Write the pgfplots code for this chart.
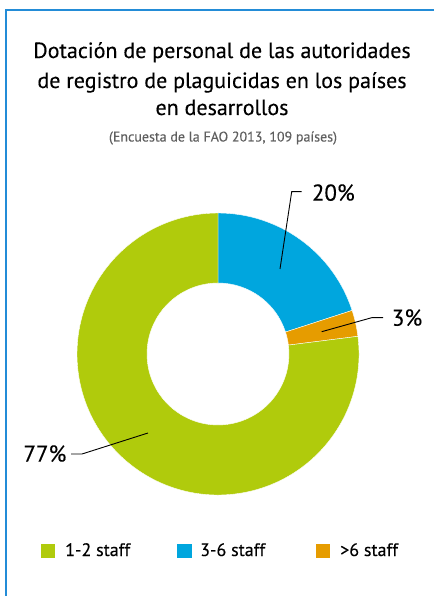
\documentclass[border=0pt]{standalone}
\usepackage{pgfplots}
\usepackage{pgfplotstable}
\pgfplotsset{compat=1.18}
\usepackage{fontspec}
\setmainfont{PT Sans}[FakeBold=0.25]
\definecolor{cgreen}{RGB}{176,203,12}
\definecolor{cblue}{RGB}{0,166,222}
\definecolor{corange}{RGB}{230,156,0}
\definecolor{cframe}{RGB}{35,140,215}
\definecolor{csub}{RGB}{95,95,95}
\pgfplotstableread{
share
20
3
77
}\datatable
\pgfplotstablegetelem{0}{share}\of\datatable \let\vA\pgfplotsretval
\pgfplotstablegetelem{1}{share}\of\datatable \let\vB\pgfplotsretval
\pgfplotstablegetelem{2}{share}\of\datatable \let\vC\pgfplotsretval
\pgfmathsetmacro\aA{90}
\pgfmathsetmacro\aB{\aA-3.6*\vA}
\pgfmathsetmacro\aC{\aB-3.6*\vB}
\pgfmathsetmacro\aD{\aC-3.6*\vC}
\def\cx{218}\def\cy{242}\def\ro{141}\def\ri{71}
\newcommand\slice[3]{%
  \fill[#3,draw=white,line width=0.4pt] (axis cs:{\cx+\ro*cos(#1)},{\cy+\ro*sin(#1)}) arc[start angle=#1,end angle=#2,radius=\ro pt]
   -- (axis cs:{\cx+\ri*cos(#2)},{\cy+\ri*sin(#2)}) arc[start angle=#2,end angle=#1,radius=\ri pt] -- cycle;}
\begin{document}
\begin{tikzpicture}[x=1pt,y=1pt]
\useasboundingbox (0,0) rectangle (434,596);
\begin{axis}[hide axis, x=1pt, y=1pt, xmin=0, xmax=434, ymin=0, ymax=596,
  at={(0,0)}, anchor=south west, scale only axis, clip=false]
\slice{\aA}{\aB}{cblue}
\slice{\aB}{\aC}{corange}
\slice{\aC}{\aD}{cgreen}
% frame
\draw[cframe,line width=1.3pt] (axis cs:434,586) -- (axis cs:6,586) -- (axis cs:6,0);
% title
\node[anchor=base,font=\fontsize{22}{26}\selectfont] at (axis cs:222,538) {Dotación de personal de las autoridades};
\node[anchor=base,font=\fontsize{22}{26}\selectfont] at (axis cs:222,508) {de registro de plaguicidas en los países};
\node[anchor=base,font=\fontsize{22}{26}\selectfont] at (axis cs:222,481) {en desarrollos};
\node[anchor=base,font=\fontsize{14}{16}\selectfont,text=csub] at (axis cs:223,454.5) {(Encuesta de la FAO 2013, 109 países)};
% leaders
\draw[line width=0.9pt] (axis cs:280,327) -- (axis cs:291.7,404.3) -- (axis cs:301.7,404.3);
\draw[line width=0.9pt] (axis cs:321.7,264.3) -- (axis cs:371.7,278.3) -- (axis cs:383,278.3);
\draw[line width=0.9pt] (axis cs:71,142) -- (axis cs:82,142) -- (axis cs:148,163);
\node[anchor=base west,inner sep=0,font=\fontsize{23}{26}\selectfont] at (axis cs:311.7,395.3) {\vA\%};
\node[anchor=base west,inner sep=0,font=\fontsize{23}{26}\selectfont] at (axis cs:391.7,270.3) {\vB\%};
\node[anchor=base west,inner sep=0,font=\fontsize{23}{26}\selectfont] at (axis cs:23.3,134.3) {\vC\%};
% legend
\fill[cgreen] (axis cs:41,38) rectangle (axis cs:55,52);
\fill[cblue] (axis cs:177,38) rectangle (axis cs:192,52);
\fill[corange] (axis cs:316,38) rectangle (axis cs:330,52);
\node[anchor=base west,inner sep=0,font=\fontsize{18}{20}\selectfont] at (axis cs:65,40) {1-2 staff};
\node[anchor=base west,inner sep=0,font=\fontsize{18}{20}\selectfont] at (axis cs:200,40) {3-6 staff};
\node[anchor=base west,inner sep=0,font=\fontsize{18}{20}\selectfont] at (axis cs:340,40) {>6 staff};
\end{axis}
\end{tikzpicture}
\end{document}
